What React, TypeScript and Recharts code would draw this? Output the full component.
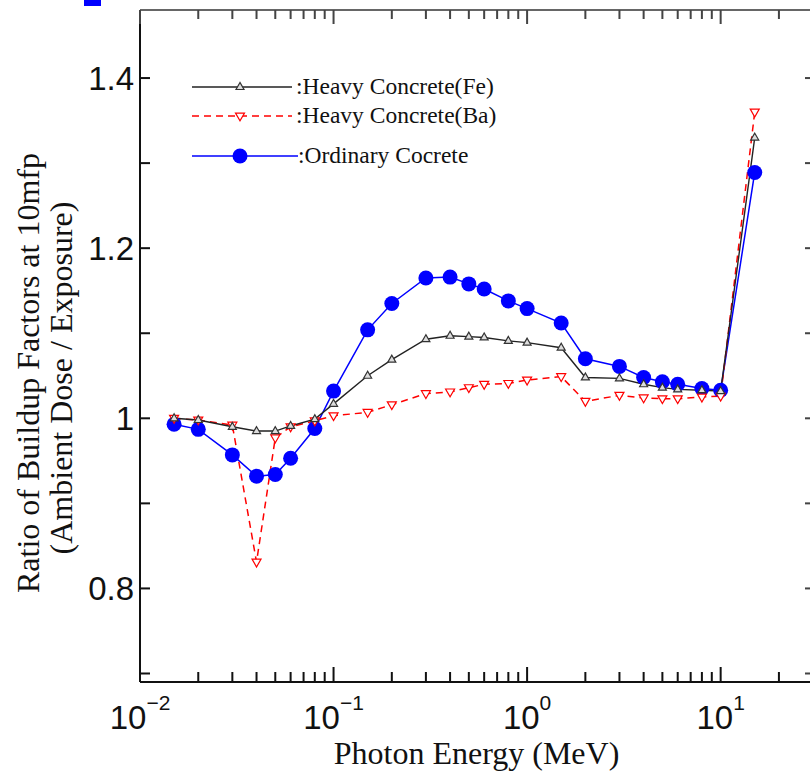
import React from 'react';
import { LineChart, Line, XAxis, YAxis } from 'recharts';

// photon energies (MeV)
const energies = [0.015, 0.02, 0.03, 0.04, 0.05, 0.06, 0.08, 0.1, 0.15, 0.2, 0.3, 0.4, 0.5, 0.6, 0.8, 1, 1.5, 2, 3, 4, 5, 6, 8, 10, 15];

// ratio of buildup factors at 10 mfp
const heavyFe = [1.0, 0.998, 0.99, 0.985, 0.985, 0.991, 0.999, 1.017, 1.05, 1.069, 1.093, 1.097, 1.096, 1.095, 1.091, 1.089, 1.083, 1.048, 1.047, 1.04, 1.036, 1.034, 1.033, 1.032, 1.33];
const heavyBa = [1.0, 0.998, 0.992, 0.831, 0.977, 0.99, 0.997, 1.003, 1.007, 1.016, 1.029, 1.031, 1.036, 1.04, 1.041, 1.045, 1.049, 1.02, 1.027, 1.024, 1.023, 1.023, 1.025, 1.026, 1.36];
const ordinary = [0.993, 0.987, 0.957, 0.932, 0.934, 0.953, 0.988, 1.032, 1.104, 1.135, 1.165, 1.166, 1.158, 1.152, 1.138, 1.129, 1.112, 1.07, 1.061, 1.048, 1.043, 1.04, 1.035, 1.033, 1.289];

const xTicks = [
  0.01, 0.02, 0.03, 0.04, 0.05, 0.06, 0.07, 0.08, 0.09,
  0.1, 0.2, 0.3, 0.4, 0.5, 0.6, 0.7, 0.8, 0.9,
  1, 2, 3, 4, 5, 6, 7, 8, 9,
  10, 20,
];
const decades = [0.01, 0.1, 1, 10];
const yTicks = [0.7, 0.8, 0.9, 1, 1.1, 1.2, 1.3, 1.4];
const yLabels = ['0.8', '1', '1.2', '1.4'];

const data = energies.map((e, i) => ({
  e,
  fe: heavyFe[i],
  ba: heavyBa[i],
  oc: ordinary[i],
}));

const SANS = '"Liberation Sans", Arial, sans-serif';
const SERIF = '"Liberation Serif", "Times New Roman", serif';
const AXIS = '#111';

const supText = (v: number) => {
  const exp = Math.round(Math.log10(v));
  return exp < 0 ? '\u2212' + -exp : String(exp);
};

const BottomTick = ({ x, y, payload }: any) => {
  const v = payload.value;
  const major = decades.includes(v);
  return (
    <g>
      <rect x={x - 1} y={y - (major ? 15 : 10)} width={2} height={major ? 15 : 10} fill={AXIS} />
      {major && (
        <text x={x} y={y + 47} textAnchor="middle" fontFamily={SANS} fontSize={33} fill="#111">
          10
          <tspan dy={-19} fontSize={21}>{supText(v)}</tspan>
        </text>
      )}
    </g>
  );
};

const TopTick = ({ x, y, payload }: any) => {
  const major = decades.includes(payload.value);
  return <rect x={x - 1} y={y} width={2} height={major ? 14 : 9} fill="#444" />;
};

const LeftTick = ({ x, y, payload }: any) => {
  const v = payload.value;
  const label = yLabels.find((l) => Math.abs(Number(l) - v) < 1e-6);
  return (
    <g>
      <rect x={x} y={y - 1} width={10} height={2} fill={AXIS} />
      {label && (
        <text x={x - 6} y={y} dy="0.36em" textAnchor="end" fontFamily={SANS} fontSize={33} fill="#111">
          {label}
        </text>
      )}
    </g>
  );
};

const RightTick = ({ x, y }: any) => <rect x={x - 8} y={y - 1} width={8} height={2} fill="#444" />;

const XTitle = ({ viewBox }: any) => (
  <text
    x={viewBox.x + viewBox.width / 2}
    y={viewBox.y + 82}
    textAnchor="middle"
    fontFamily={SERIF}
    fontSize={32}
    fill="#111"
  >
    Photon Energy (MeV)
  </text>
);

const YTitle = () => (
  <g fontFamily={SERIF} fontSize={32} fill="#111" textAnchor="middle">
    <text transform="translate(39, 373) rotate(-90)">Ratio of Buildup Factors at 10mfp</text>
    <text transform="translate(72, 378) rotate(-90)">(Ambient Dose / Exposure)</text>
  </g>
);

const TriUp = ({ cx, cy, size = 8, stroke, fill }: any) => {
  const h = size * 0.87;
  return (
    <polygon
      points={`${cx},${cy - h / 2 - 1} ${cx - size / 2},${cy + h / 2 - 1} ${cx + size / 2},${cy + h / 2 - 1}`}
      stroke={stroke}
      fill={fill}
      strokeWidth={1.2}
    />
  );
};

const TriDown = ({ cx, cy, size = 9, stroke, fill }: any) => {
  const h = size * 0.87;
  return (
    <polygon
      points={`${cx - size / 2},${cy - h / 2 + 1} ${cx + size / 2},${cy - h / 2 + 1} ${cx},${cy + h / 2 + 1}`}
      stroke={stroke}
      fill={fill}
      strokeWidth={1.2}
    />
  );
};

const legendRows = [
  { label: ':Heavy Concrete(Fe)', y: 13, kind: 'fe' },
  { label: ':Heavy Concrete(Ba)', y: 42, kind: 'ba' },
  { label: ':Ordinary Cocrete', y: 82, kind: 'oc' },
];

const LegendBox = () => (
  <svg width={340} height={100} style={{ position: 'absolute', left: 190, top: 74 }}>
    {legendRows.map((r) => (
      <g key={r.kind}>
        {r.kind === 'fe' && (
          <>
            <line x1={2} x2={102} y1={r.y} y2={r.y} stroke="#222" strokeWidth={1.5} />
            <TriUp cx={50} cy={r.y} stroke="#333" fill="#ddd" />
          </>
        )}
        {r.kind === 'ba' && (
          <>
            <line x1={2} x2={102} y1={r.y} y2={r.y} stroke="#ff0000" strokeWidth={1.5} strokeDasharray="7 5" />
            <TriDown cx={50} cy={r.y} stroke="#ff0000" fill="#fff" />
          </>
        )}
        {r.kind === 'oc' && (
          <>
            <line x1={2} x2={108} y1={r.y} y2={r.y} stroke="#0000ff" strokeWidth={1.5} />
            <circle cx={50} cy={r.y} r={7.5} fill="#0000ff" />
          </>
        )}
        <text x={r.kind === 'oc' ? 108 : 106} y={r.y + 7} fontFamily={SERIF} fontSize={23.5} fill="#111">
          {r.label}
        </text>
      </g>
    ))}
  </svg>
);

export default function App() {
  return (
    <div
      style={{
        position: 'fixed',
        left: 0,
        top: 0,
        width: 810,
        height: 776,
        overflow: 'hidden',
        background: '#fff',
      }}
    >
      <div style={{ position: 'absolute', left: 84, top: 0, width: 17, height: 6, background: '#0000ff' }} />
      <LineChart width={830} height={776} data={data} margin={{ top: 9, right: 16, bottom: 0, left: 0 }}>
        <XAxis
          dataKey="e"
          type="number"
          scale="log"
          domain={[0.01, 30]}
          allowDataOverflow
          ticks={xTicks}
          interval={0}
          tick={<BottomTick />}
          tickLine={false}
          tickSize={0}
          tickMargin={0}
          height={94}
          axisLine={{ stroke: AXIS, strokeWidth: 2 }}
          label={<XTitle />}
        />
        <XAxis
          xAxisId="top"
          orientation="top"
          dataKey="e"
          type="number"
          scale="log"
          domain={[0.01, 30]}
          allowDataOverflow
          ticks={xTicks}
          interval={0}
          tick={<TopTick />}
          tickLine={false}
          tickSize={0}
          tickMargin={0}
          height={1}
          axisLine={{ stroke: '#666', strokeWidth: 1.8 }}
        />
        <YAxis
          type="number"
          domain={[0.69, 1.48]}
          allowDataOverflow
          ticks={yTicks}
          interval={0}
          tick={<LeftTick />}
          tickLine={false}
          tickSize={0}
          tickMargin={0}
          width={140}
          axisLine={{ stroke: AXIS, strokeWidth: 2 }}
          label={<YTitle />}
        />
        <YAxis
          yAxisId="right"
          orientation="right"
          type="number"
          domain={[0.69, 1.48]}
          allowDataOverflow
          ticks={yTicks}
          interval={0}
          tick={<RightTick />}
          tickLine={false}
          tickSize={0}
          tickMargin={0}
          width={1}
          axisLine={{ stroke: '#666', strokeWidth: 1.8 }}
        />
        <Line
          dataKey="oc"
          stroke="#0000ff"
          strokeWidth={1.5}
          isAnimationActive={false}
          dot={(p: any) => <circle key={`oc-${p.index}`} cx={p.cx} cy={p.cy} r={7.5} fill="#0000ff" />}
        />
        <Line
          dataKey="ba"
          stroke="#ff0000"
          strokeWidth={1.5}
          strokeDasharray="7 5"
          isAnimationActive={false}
          dot={(p: any) => <TriDown key={`ba-${p.index}`} cx={p.cx} cy={p.cy} stroke="#ff0000" fill="#fff" />}
        />
        <Line
          dataKey="fe"
          stroke="#222"
          strokeWidth={1.4}
          isAnimationActive={false}
          dot={(p: any) => <TriUp key={`fe-${p.index}`} cx={p.cx} cy={p.cy} stroke="#333" fill="#ddd" />}
        />
      </LineChart>
      <LegendBox />
    </div>
  );
}
